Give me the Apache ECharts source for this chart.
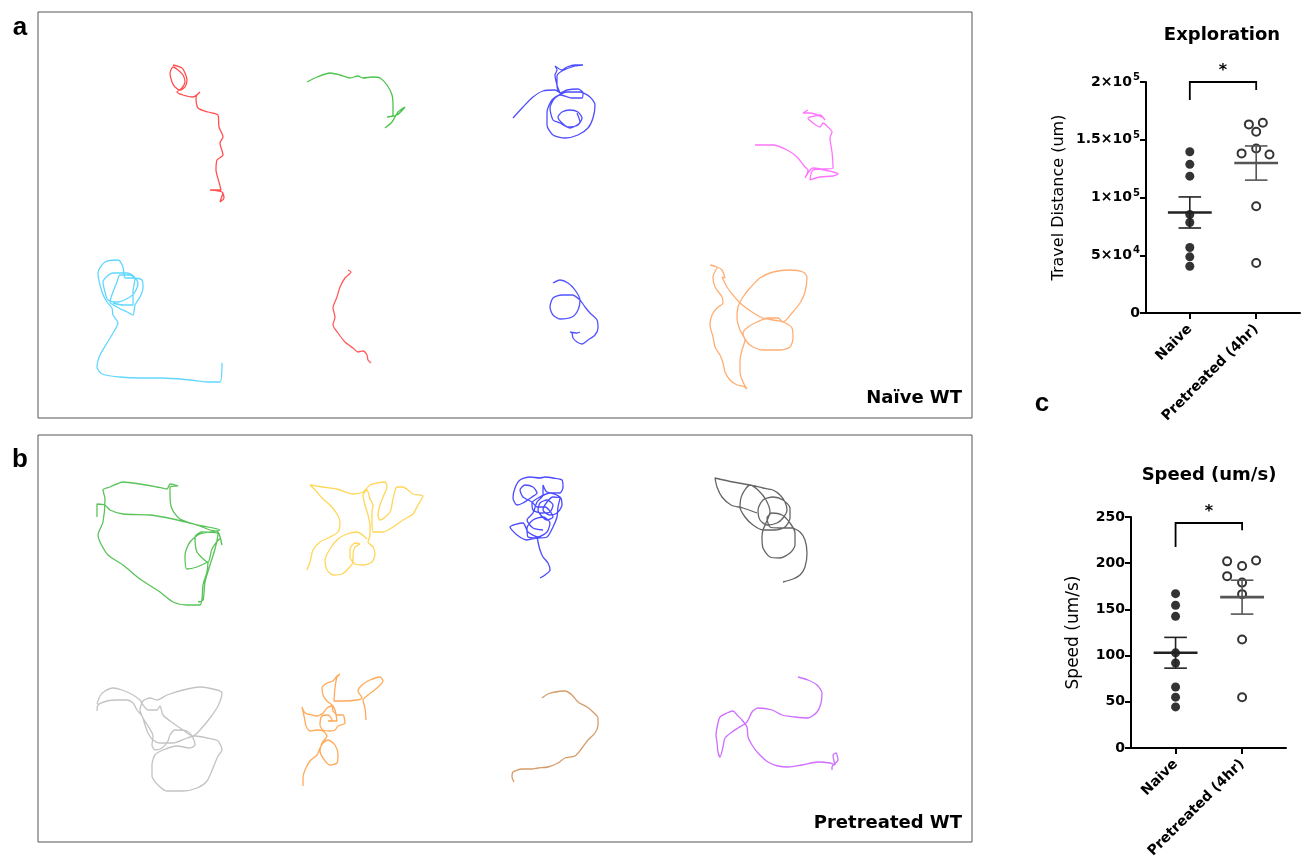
<!DOCTYPE html>
<html><head><meta charset="utf-8">
<script src="https://cdn.jsdelivr.net/npm/echarts@6/dist/echarts.min.js"></script>
<style>html,body{margin:0;padding:0;background:#fff}#c{width:1306px;height:865px}</style>
</head><body><div id="c"></div>
<script>
// ---------- Trajectory tracks (panel coordinates, y downward) ----------
// Panel a: Naïve WT
const trackA_red1 = [[135,53],[144,56],[147,61],[149,68],[147,75],[142,78],[137,75],[134,70],[132,61],[135,55],[140,58],[145,63],[147,70],[144,76],[139,80],[145,83],[155,85],[162,80],[158,85],[160,96],[170,100],[180,103],[181,115],[185,125],[182,131],[185,143],[179,148],[178,158],[181,170],[183,178],[172,178],[184,180],[186,186],[182,190],[185,181]];
const trackA_green = [[269,70],[279,65],[292,61],[302,63],[312,66],[320,64],[325,66],[334,65],[342,66],[349,73],[354,83],[355,93],[355,103],[349,105],[359,103],[367,95],[360,100],[354,110],[347,116]];
const trackA_blue1 = [[475,106],[485,95],[495,85],[505,79],[517,78],[522,81],[519,73],[517,63],[519,58],[517,54],[524,58],[529,55],[537,53],[545,53],[537,54],[524,59],[519,64],[519,74],[522,81],[529,78],[540,77],[545,81],[544,86],[534,86],[522,83],[514,88],[509,100],[509,113],[515,123],[527,126],[540,123],[550,116],[555,106],[557,93],[552,85],[542,80],[529,80],[517,86],[512,96],[515,108],[522,111],[530,115],[540,113],[544,106],[540,100],[532,98],[524,100],[520,105],[524,111],[532,116],[542,110],[539,101]];
const trackA_magenta = [[717,133],[735,133],[749,138],[759,145],[767,155],[770,158],[767,166],[775,156],[795,160],[800,162],[795,164],[782,165],[772,168],[775,158],[795,156],[794,140],[792,126],[794,120],[790,115],[785,111],[782,115],[775,111],[770,106],[777,104],[782,103],[787,108],[784,105],[772,101],[765,101],[770,98]];
const trackA_cyan = [[184,351],[182,370],[172,370],[152,368],[125,366],[102,366],[82,365],[64,362],[59,355],[62,343],[69,331],[75,321],[80,311],[75,303],[74,296],[69,290],[64,280],[60,261],[67,250],[80,248],[85,255],[87,266],[94,266],[104,268],[105,276],[102,285],[97,293],[95,303],[89,300],[79,295],[72,290],[75,280],[79,270],[82,263],[92,263],[100,271],[97,280],[92,285],[80,290],[70,288],[67,280],[65,270],[75,261],[89,261],[97,266],[95,280],[95,293],[85,293],[75,291]];
const trackA_red2 = [[310,258],[313,260],[307,266],[302,275],[299,285],[295,296],[297,305],[295,313],[300,321],[307,330],[315,336],[320,340],[325,339],[329,343],[330,348],[333,351]];
const trackA_blue2 = [[515,271],[522,268],[530,271],[537,278],[542,288],[540,298],[534,305],[522,307],[515,303],[512,295],[515,286],[524,283],[534,283],[542,288],[547,295],[552,301],[559,308],[560,316],[557,323],[550,328],[544,332],[539,330],[535,326],[534,321],[532,320],[539,321],[542,320]];
const trackA_orange = [[672,253],[679,255],[684,258],[687,266],[684,265],[689,275],[695,283],[702,291],[714,300],[725,306],[735,308],[745,310],[754,316],[755,326],[752,335],[742,338],[725,338],[715,335],[709,330],[705,321],[710,315],[719,310],[730,306],[740,306],[745,310],[754,301],[762,291],[767,280],[769,265],[765,260],[752,258],[735,260],[722,266],[712,276],[705,285],[700,295],[699,306],[702,318],[707,328],[704,338],[702,348],[702,360],[705,370],[709,377],[705,374],[699,373],[692,368],[687,360],[685,351],[682,343],[677,335],[675,325],[672,313],[674,303],[679,296],[685,291],[684,285],[677,275],[675,265],[679,256]];
// Panel b: Pretreated WT
const trackB_green = [[59,82],[59,69],[67,70],[72,75],[85,79],[112,80],[135,84],[159,90],[182,95],[162,99],[152,107],[147,120],[149,134],[159,132],[170,127],[169,137],[165,150],[164,164],[162,170],[149,170],[135,167],[122,157],[102,144],[85,130],[70,120],[62,107],[60,100],[65,87],[67,64],[65,55],[72,52],[85,47],[102,49],[119,52],[129,54],[132,49],[140,51],[132,52],[132,60],[134,74],[142,84],[159,90],[172,95],[180,97],[184,110],[182,104],[174,114],[170,127],[159,117],[157,102],[164,97],[180,99],[177,114],[172,130],[167,147],[165,165],[160,167]];
const trackB_yellow = [[269,135],[272,127],[275,115],[282,107],[292,102],[300,97],[302,87],[299,79],[292,70],[285,64],[279,57],[272,50],[285,52],[299,54],[315,59],[325,57],[332,50],[339,48],[347,47],[349,52],[345,62],[342,70],[340,80],[342,85],[352,77],[355,64],[359,52],[365,52],[375,59],[385,61],[380,70],[375,79],[365,85],[355,92],[345,97],[335,97],[334,87],[334,77],[335,70],[332,64],[329,55],[325,60],[327,70],[330,80],[332,90],[332,100],[330,107],[335,112],[337,119],[334,127],[325,130],[317,129],[312,122],[312,114],[317,108],[322,109],[317,112],[315,120],[315,127],[310,134],[304,139],[295,140],[289,135],[287,125],[292,114],[300,104],[309,99],[319,97],[329,104]];
const trackB_blue = [[502,143],[507,140],[512,135],[510,128],[505,122],[502,115],[500,107],[499,103],[489,105],[479,100],[472,92],[485,88],[490,97],[500,102],[509,97],[512,88],[505,82],[495,85],[489,93],[490,102],[499,103],[509,102],[515,92],[519,82],[520,72],[522,63],[515,62],[509,67],[505,75],[512,80],[519,78],[524,70],[522,62],[512,58],[500,63],[494,68],[495,75],[504,78],[512,77],[515,70],[509,65],[502,68],[500,75],[509,85],[515,82],[507,72],[499,72],[494,67],[485,62],[482,55],[487,50],[495,52],[499,58],[494,62],[485,68],[479,70],[475,63],[477,53],[482,45],[492,42],[502,43],[507,42],[515,43],[524,45],[525,52],[522,58],[509,57],[505,50],[505,60],[499,67],[495,78],[489,85],[495,93],[505,95]];
const trackB_dark = [[719,78],[705,73],[693,70],[684,62],[679,52],[677,43],[695,47],[712,50],[725,53],[735,55],[742,60],[747,67],[749,75],[745,83],[739,88],[729,90],[722,85],[720,75],[725,65],[735,62],[745,65],[752,73],[752,83],[747,92],[737,95],[725,95],[715,90],[707,82],[702,72],[704,60],[712,50],[720,55],[728,65],[732,77],[728,88],[725,95],[724,102],[725,113],[732,122],[742,123],[752,118],[757,110],[757,98],[752,88],[744,80],[734,78],[729,83],[732,92],[742,93],[754,93],[762,97],[767,105],[769,118],[767,132],[762,140],[755,144],[745,147]];
const trackB_lightgray = [[59,276],[60,270],[69,266],[79,265],[89,265],[95,268],[99,275],[104,281],[107,290],[110,298],[115,305],[122,308],[135,308],[149,303],[157,301],[169,303],[180,306],[184,315],[180,321],[175,333],[169,346],[159,353],[145,356],[129,356],[120,350],[114,341],[114,330],[117,320],[125,315],[139,311],[152,313],[157,310],[154,301],[149,296],[137,295],[132,300],[130,306],[124,313],[117,315],[114,310],[115,301],[110,291],[105,283],[102,275],[105,266],[112,263],[119,265],[129,260],[145,255],[162,252],[179,255],[184,258],[180,271],[172,283],[162,295],[155,301],[145,295],[135,288],[125,280],[122,271],[119,275],[110,275],[105,270],[102,265],[95,260],[84,255],[75,253],[67,256],[62,261],[59,269]];
const trackB_orange = [[265,351],[265,343],[267,335],[272,326],[279,320],[282,313],[285,308],[290,305],[297,310],[300,320],[299,328],[292,330],[285,323],[282,316],[284,308],[289,301],[285,296],[279,295],[272,296],[268,291],[267,286],[265,276],[264,272],[267,278],[274,280],[279,281],[285,278],[289,273],[294,271],[295,276],[300,280],[305,280],[307,288],[300,291],[297,295],[292,296],[285,295],[282,290],[284,281],[290,280],[294,285],[290,286],[299,286],[297,275],[294,270],[289,266],[285,260],[284,253],[289,248],[295,246],[299,241],[302,239],[299,242],[297,253],[296,266],[305,266],[319,265],[324,263],[320,256],[324,250],[332,245],[342,242],[345,246],[339,253],[330,260],[325,265],[327,273],[328,285]];
const trackB_brown = [[504,263],[510,259],[517,257],[527,256],[534,260],[540,267],[549,272],[555,277],[560,283],[560,290],[557,298],[550,305],[544,313],[537,321],[527,323],[520,328],[510,332],[500,333],[494,334],[484,334],[475,337],[474,342],[476,347]];
const trackB_purple = [[760,242],[770,245],[779,250],[784,258],[783,268],[779,277],[770,283],[757,282],[744,280],[734,275],[720,273],[714,277],[709,287],[700,293],[694,297],[687,303],[685,312],[682,322],[680,317],[679,307],[678,300],[680,288],[682,282],[689,278],[695,276],[699,280],[704,285],[709,292],[710,302],[714,310],[720,318],[730,327],[740,331],[750,332],[764,330],[780,327],[792,328],[797,330],[795,320],[798,318],[800,325],[794,332],[794,335]];

// ---------- Scatter data ----------
const groupLabels = ['Naive', 'Pretreated (4hr)'];
const expNaive = [139600, 128700, 118500, 85300, 78400, 56700, 48600, 40500];
const expPretreated = [163300, 164700, 156900, 142500, 138200, 137300, 92500, 43300];
const expPretreatedJitter = [-0.11, 0.10, 0, 0, -0.22, 0.20, 0, 0];
const expTicks = [0, 50000, 100000, 150000, 200000];
const expTickLabels = ['{b|0}', '{b|5×10}{s|4}', '{b|1×10}{s|5}', '{b|1.5×10}{s|5}', '{b|2×10}{s|5}'];
const expBracket = [184400, 200000, 193000]; // left leg end, bar, right leg end

const spdNaive = [167, 154.5, 142.5, 103, 92, 66, 55, 44.5];
const spdPretreated = [202, 197, 203, 186, 179, 166.5, 117.5, 55];
const spdPretreatedJitter = [-0.225, 0, 0.21, -0.225, 0, 0, 0, 0];
const spdBracket = [217.5, 243.5, 235.6];

const FONT = 'Liberation Sans, Arial, sans-serif';
const WFONT = 'DejaVu Sans, Verdana, sans-serif';

function meanSem(a) {
  const n = a.length, m = a.reduce((s, v) => s + v, 0) / n;
  const sd = Math.sqrt(a.reduce((s, v) => s + (v - m) * (v - m), 0) / (n - 1));
  return [m, sd / Math.sqrt(n)];
}

const chart = echarts.init(document.getElementById('c'), null, {renderer: 'canvas'});

function trackSeries(data, color, gi) {
  return {type: 'line', xAxisIndex: gi, yAxisIndex: gi, data: data, showSymbol: false, symbol: 'none',
    smooth: 0.25, silent: true, lineStyle: {color: color, width: 1.3, opacity: 0.85}, z: 2};
}

function statAxisX(gi, min, max) {
  return {gridIndex: gi, type: 'value', min: min, max: max,
    axisLine: {show: true, onZero: false, lineStyle: {color: '#000', width: 2}},
    axisTick: {show: true, customValues: [1, 2], length: 6, lineStyle: {color: '#000', width: 2}},
    axisLabel: {show: true, customValues: [1, 2], rotate: 45, margin: 14, color: '#000', fontWeight: 'bold', fontSize: 14, fontFamily: WFONT,
      formatter: v => groupLabels[Math.round(v) - 1] || ''},
    splitLine: {show: false}};
}

function meanSeries(gi, vals, x, color) {
  const ms = meanSem(vals);
  return {type: 'custom', xAxisIndex: gi, yAxisIndex: gi, silent: true, z: 5,
    data: [[x, ms[0], ms[1]]],
    renderItem: function (params, api) {
      const xv = api.value(0), m = api.value(1), s = api.value(2);
      const c = api.coord([xv, m]), up = api.coord([xv, m + s]), lo = api.coord([xv, m - s]);
      const half = api.size([0.33, 0])[0], cap = api.size([0.17, 0])[0];
      return {type: 'group', children: [
        {type: 'line', shape: {x1: c[0], y1: up[1], x2: c[0], y2: lo[1]}, style: {stroke: color, lineWidth: 1.6}},
        {type: 'line', shape: {x1: c[0] - cap, y1: up[1], x2: c[0] + cap, y2: up[1]}, style: {stroke: color, lineWidth: 1.6}},
        {type: 'line', shape: {x1: c[0] - cap, y1: lo[1], x2: c[0] + cap, y2: lo[1]}, style: {stroke: color, lineWidth: 1.6}},
        {type: 'line', shape: {x1: c[0] - half, y1: c[1], x2: c[0] + half, y2: c[1]}, style: {stroke: color, lineWidth: 2.6}}
      ]};
    }};
}

function bracketSeries(gi, br) {
  return {type: 'custom', xAxisIndex: gi, yAxisIndex: gi, silent: true, z: 5, clip: false,
    data: [[1, br[0], 2, br[2], br[1]]],
    renderItem: function (params, api) {
      const a = api.coord([1, api.value(1)]), t1 = api.coord([1, api.value(4)]);
      const t2 = api.coord([2, api.value(4)]), b = api.coord([2, api.value(3)]);
      return {type: 'group', children: [
        {type: 'polyline', shape: {points: [a, t1, t2, b]}, style: {stroke: '#000', lineWidth: 1.8, fill: null}},
        {type: 'text', x: (t1[0] + t2[0]) / 2, y: t1[1] - 3, style: {text: '*', font: 'bold 16px ' + WFONT, fill: '#000', textAlign: 'center', textVerticalAlign: 'bottom'}}
      ]};
    }};
}

const option = {
  animation: false,
  backgroundColor: '#fff',
  grid: [
    {left: 38, top: 12, width: 934, height: 406, show: true, borderColor: '#555', borderWidth: 1, backgroundColor: 'transparent'},
    {left: 38, top: 435, width: 934, height: 407, show: true, borderColor: '#555', borderWidth: 1, backgroundColor: 'transparent'},
    {left: 1146, top: 82, width: 154, height: 231},
    {left: 1131, top: 517, width: 155, height: 231}
  ],
  xAxis: [
    {gridIndex: 0, type: 'value', min: 0, max: 934, show: false},
    {gridIndex: 1, type: 'value', min: 0, max: 934, show: false},
    statAxisX(2, 0.34, 2.66),
    statAxisX(3, 0.33, 2.66)
  ],
  yAxis: [
    {gridIndex: 0, type: 'value', min: 0, max: 406, inverse: true, show: false},
    {gridIndex: 1, type: 'value', min: 0, max: 407, inverse: true, show: false},
    {gridIndex: 2, type: 'value', min: 0, max: 200000, interval: 50000,
      axisLine: {show: true, onZero: false, lineStyle: {color: '#000', width: 2}},
      axisTick: {show: true, length: 6, lineStyle: {color: '#000', width: 2}},
      splitLine: {show: false},
      axisLabel: {margin: 6, color: '#000', fontWeight: 'bold', fontSize: 14, fontFamily: WFONT,
        formatter: v => expTickLabels[expTicks.indexOf(v)],
        rich: {b: {fontSize: 14, fontWeight: 'bold', color: '#000', fontFamily: WFONT},
               s: {fontSize: 10, fontWeight: 'bold', color: '#000', fontFamily: WFONT, padding: [0, 0, 9, 1]}}},
      name: 'Travel Distance (um)', nameLocation: 'middle', nameGap: 79,
      nameTextStyle: {fontSize: 16, color: '#000', fontFamily: WFONT}},
    {gridIndex: 3, type: 'value', min: 0, max: 250, interval: 50,
      axisLine: {show: true, onZero: false, lineStyle: {color: '#000', width: 2}},
      axisTick: {show: true, length: 6, lineStyle: {color: '#000', width: 2}},
      splitLine: {show: false},
      axisLabel: {margin: 6, color: '#000', fontWeight: 'bold', fontSize: 14, fontFamily: WFONT},
      name: 'Speed (um/s)', nameLocation: 'middle', nameGap: 49,
      nameTextStyle: {fontSize: 17, color: '#000', fontFamily: WFONT}}
  ],
  series: [
    trackSeries(trackA_red1, '#ff3030', 0),
    trackSeries(trackA_green, '#2db82d', 0),
    trackSeries(trackA_blue1, '#3030ff', 0),
    trackSeries(trackA_magenta, '#ff5cff', 0),
    trackSeries(trackA_cyan, '#45d0ff', 0),
    trackSeries(trackA_red2, '#ff4040', 0),
    trackSeries(trackA_blue2, '#3535ff', 0),
    trackSeries(trackA_orange, '#ffa05a', 0),
    trackSeries(trackB_green, '#3cb83c', 1),
    trackSeries(trackB_yellow, '#ffcf3a', 1),
    trackSeries(trackB_blue, '#2a2aff', 1),
    trackSeries(trackB_dark, '#4a4a4a', 1),
    trackSeries(trackB_lightgray, '#b8b8b8', 1),
    trackSeries(trackB_orange, '#ff9a3c', 1),
    trackSeries(trackB_brown, '#cc8a4e', 1),
    trackSeries(trackB_purple, '#c653ff', 1),
    {type: 'scatter', xAxisIndex: 2, yAxisIndex: 2, silent: true, z: 3, symbol: 'circle', symbolSize: 9,
      itemStyle: {color: '#000'}, data: expNaive.map(v => [1, v])},
    {type: 'scatter', xAxisIndex: 2, yAxisIndex: 2, silent: true, z: 3, symbol: 'circle', symbolSize: 8,
      itemStyle: {color: '#fff', borderColor: '#000', borderWidth: 2}, data: expPretreated.map((v, i) => [2 + expPretreatedJitter[i], v])},
    meanSeries(2, expNaive, 1, '#222'),
    meanSeries(2, expPretreated, 2, '#555'),
    bracketSeries(2, expBracket),
    {type: 'scatter', xAxisIndex: 3, yAxisIndex: 3, silent: true, z: 3, symbol: 'circle', symbolSize: 9,
      itemStyle: {color: '#000'}, data: spdNaive.map(v => [1, v])},
    {type: 'scatter', xAxisIndex: 3, yAxisIndex: 3, silent: true, z: 3, symbol: 'circle', symbolSize: 8,
      itemStyle: {color: '#fff', borderColor: '#000', borderWidth: 2}, data: spdPretreated.map((v, i) => [2 + spdPretreatedJitter[i], v])},
    meanSeries(3, spdNaive, 1, '#222'),
    meanSeries(3, spdPretreated, 2, '#555'),
    bracketSeries(3, spdBracket)
  ],
  graphic: [
    {type: 'text', x: 20, y: 28, style: {text: 'a', font: 'bold 26px ' + FONT, fill: '#000', textAlign: 'center', textVerticalAlign: 'middle'}},
    {type: 'text', x: 20, y: 460, style: {text: 'b', font: 'bold 26px ' + FONT, fill: '#000', textAlign: 'center', textVerticalAlign: 'middle'}},
    {type: 'text', x: 1042, y: 404, style: {text: 'c', font: 'bold 26px ' + FONT, fill: '#000', textAlign: 'center', textVerticalAlign: 'middle'}},
    {type: 'text', x: 962, y: 398, style: {text: 'Naïve WT', font: 'bold 18px ' + WFONT, fill: '#000', textAlign: 'right', textVerticalAlign: 'middle'}},
    {type: 'text', x: 962, y: 823, style: {text: 'Pretreated WT', font: 'bold 18px ' + WFONT, fill: '#000', textAlign: 'right', textVerticalAlign: 'middle'}},
    {type: 'text', x: 1222, y: 35, style: {text: 'Exploration', font: 'bold 18px ' + WFONT, fill: '#000', textAlign: 'center', textVerticalAlign: 'middle'}},
    {type: 'text', x: 1209, y: 475, style: {text: 'Speed (um/s)', font: 'bold 18px ' + WFONT, fill: '#000', textAlign: 'center', textVerticalAlign: 'middle'}}
  ]
};
chart.setOption(option);
</script></body></html>
